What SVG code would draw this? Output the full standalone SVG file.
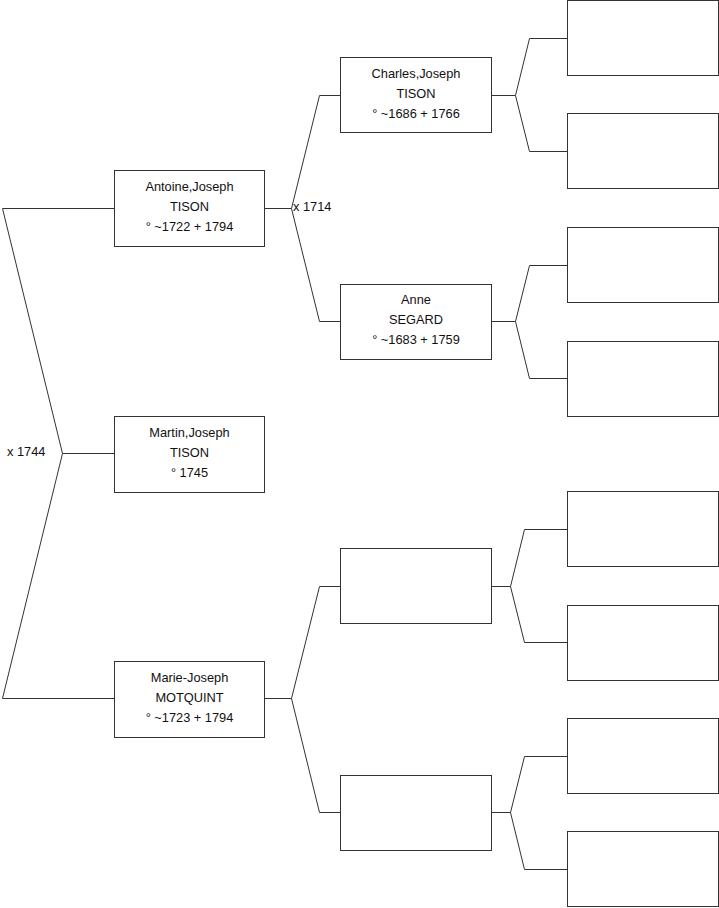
<svg xmlns="http://www.w3.org/2000/svg" width="719" height="908" viewBox="0 0 719 908">
<style>
.box{fill:#fff;stroke:#333;stroke-width:1}
.ln{fill:none;stroke:#333;stroke-width:1}
text{font-family:"Liberation Sans",Arial,sans-serif;font-size:12.8px;fill:#111}
.c{text-anchor:middle}
</style>
<rect width="719" height="908" fill="#fff"/>
<g id="connectors">
<polyline class="ln" points="114,208.5 2.5,208.5 62.5,453.5 2.5,698.5 114,698.5"/>
<line class="ln" x1="62.5" y1="453.5" x2="114" y2="453.5"/>
<polyline class="ln" points="265,208.5 291.5,208.5"/>
<polyline class="ln" points="340,95.5 319.5,95.5 291.5,208.5 319.5,321.5 340,321.5"/>
<polyline class="ln" points="265,698.5 291.5,698.5"/>
<polyline class="ln" points="340,586.5 319.5,586.5 291.5,698.5 319.5,812.5 340,812.5"/>
<polyline class="ln" points="492,95.5 515.5,95.5"/>
<polyline class="ln" points="567,38.5 529.5,38.5 515.5,95.5 529.5,151.5 567,151.5"/>
<polyline class="ln" points="492,321.5 515.5,321.5"/>
<polyline class="ln" points="567,265.5 529.5,265.5 515.5,321.5 529.5,378.5 567,378.5"/>
<polyline class="ln" points="492,586.5 510.5,586.5"/>
<polyline class="ln" points="567,529.5 524.5,529.5 510.5,586.5 524.5,642.5 567,642.5"/>
<polyline class="ln" points="492,812.5 510.5,812.5"/>
<polyline class="ln" points="567,756.5 524.5,756.5 510.5,812.5 524.5,869.5 567,869.5"/>
<text x="7" y="456">x 1744</text>
<text x="293" y="211">x 1714</text>
</g>
<g id="antoine">
<rect class="box" x="114.5" y="170.5" width="150" height="76"/>
<text class="c" x="189.5" y="191">Antoine,Joseph</text>
<text class="c" x="189.5" y="211">TISON</text>
<text class="c" x="189.5" y="231">° ~1722 + 1794</text>
</g>
<g id="martin">
<rect class="box" x="114.5" y="416.5" width="150" height="76"/>
<text class="c" x="189.5" y="437">Martin,Joseph</text>
<text class="c" x="189.5" y="457">TISON</text>
<text class="c" x="189.5" y="477">° 1745</text>
</g>
<g id="marie">
<rect class="box" x="114.5" y="661.5" width="150" height="76"/>
<text class="c" x="189.5" y="682">Marie-Joseph</text>
<text class="c" x="189.5" y="702">MOTQUINT</text>
<text class="c" x="189.5" y="722">° ~1723 + 1794</text>
</g>
<g id="charles">
<rect class="box" x="340.5" y="57.5" width="151" height="75"/>
<text class="c" x="416" y="78">Charles,Joseph</text>
<text class="c" x="416" y="98">TISON</text>
<text class="c" x="416" y="118">° ~1686 + 1766</text>
</g>
<g id="anne">
<rect class="box" x="340.5" y="284.5" width="151" height="75"/>
<text class="c" x="416" y="304">Anne</text>
<text class="c" x="416" y="324">SEGARD</text>
<text class="c" x="416" y="344">° ~1683 + 1759</text>
</g>
<g id="mother-father"><rect class="box" x="340.5" y="548.5" width="151" height="75"/></g>
<g id="mother-mother"><rect class="box" x="340.5" y="775.5" width="151" height="75"/></g>
<g id="ggp1"><rect class="box" x="567.5" y="0.5" width="151" height="75"/></g>
<g id="ggp2"><rect class="box" x="567.5" y="113.5" width="151" height="75"/></g>
<g id="ggp3"><rect class="box" x="567.5" y="227.5" width="151" height="75"/></g>
<g id="ggp4"><rect class="box" x="567.5" y="341.5" width="151" height="75"/></g>
<g id="ggp5"><rect class="box" x="567.5" y="491.5" width="151" height="75"/></g>
<g id="ggp6"><rect class="box" x="567.5" y="605.5" width="151" height="75"/></g>
<g id="ggp7"><rect class="box" x="567.5" y="718.5" width="151" height="75"/></g>
<g id="ggp8"><rect class="box" x="567.5" y="831.5" width="151" height="75"/></g>
</svg>
